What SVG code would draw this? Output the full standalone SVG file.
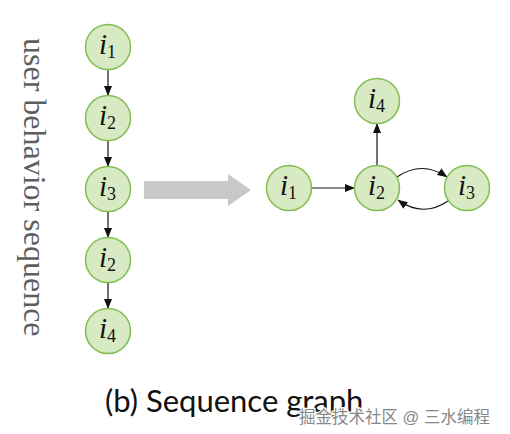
<svg xmlns="http://www.w3.org/2000/svg" width="510" height="434" viewBox="0 0 510 434">
<style>
.node{fill:#d7eac3;stroke:#82bc4f;stroke-width:1.5}
.lab{font-family:"Liberation Serif",serif;font-size:29px;fill:#111}
.sub{font-size:18px;font-style:normal}
.edge{fill:none;stroke:#111;stroke-width:1.2;marker-end:url(#ah)}
</style>
<defs>
<marker id="ah" markerUnits="userSpaceOnUse" markerWidth="10" markerHeight="8" refX="9.5" refY="4" orient="auto">
<path d="M0,0 L10,4 L0,8 z" fill="#111"/>
</marker>
</defs>
<rect width="510" height="434" fill="#fff"/>
<text transform="translate(24,38) rotate(90)" font-family="Liberation Serif,serif" font-size="32" fill="#5e5e5e">user behavior sequence</text>
<g id="connectors">
<line class="edge" x1="108" y1="69.5" x2="108" y2="95.5"/>
<line class="edge" x1="108" y1="140.5" x2="108" y2="166.5"/>
<line class="edge" x1="108" y1="211.5" x2="108" y2="237.5"/>
<line class="edge" x1="108" y1="282.5" x2="108" y2="308.5"/>
<line class="edge" x1="311.5" y1="188" x2="354.5" y2="188"/>
<line class="edge" x1="377" y1="165.5" x2="377" y2="123.5"/>
<path class="edge" d="M397,177 Q422,160 447,177"/>
<path class="edge" d="M448,201 Q423,218 398,200"/>
</g>
<polygon id="transform-arrow" points="144,181 228,181 228,174 251,190 228,206 228,199 144,199" fill="#c8c8c8"/>
<g id="seq1"><circle class="node" cx="108" cy="47" r="22.5"/><text class="lab" x="99" y="54"><tspan font-style="italic">i</tspan><tspan class="sub" dy="4">1</tspan></text></g>
<g id="seq2"><circle class="node" cx="108" cy="118" r="22.5"/><text class="lab" x="99" y="125"><tspan font-style="italic">i</tspan><tspan class="sub" dy="4">2</tspan></text></g>
<g id="seq3"><circle class="node" cx="108" cy="189" r="22.5"/><text class="lab" x="99" y="196"><tspan font-style="italic">i</tspan><tspan class="sub" dy="4">3</tspan></text></g>
<g id="seq4"><circle class="node" cx="108" cy="260" r="22.5"/><text class="lab" x="99" y="267"><tspan font-style="italic">i</tspan><tspan class="sub" dy="4">2</tspan></text></g>
<g id="seq5"><circle class="node" cx="108" cy="331" r="22.5"/><text class="lab" x="99" y="338"><tspan font-style="italic">i</tspan><tspan class="sub" dy="4">4</tspan></text></g>
<g id="g-i1"><circle class="node" cx="289" cy="188" r="22.5"/><text class="lab" x="280" y="195"><tspan font-style="italic">i</tspan><tspan class="sub" dy="4">1</tspan></text></g>
<g id="g-i2"><circle class="node" cx="377" cy="188" r="22.5"/><text class="lab" x="368" y="195"><tspan font-style="italic">i</tspan><tspan class="sub" dy="4">2</tspan></text></g>
<g id="g-i3"><circle class="node" cx="467" cy="188" r="22.5"/><text class="lab" x="458" y="195"><tspan font-style="italic">i</tspan><tspan class="sub" dy="4">3</tspan></text></g>
<g id="g-i4"><circle class="node" cx="377" cy="101" r="22.5"/><text class="lab" x="368" y="108"><tspan font-style="italic">i</tspan><tspan class="sub" dy="4">4</tspan></text></g>
<text x="105" y="412" font-family="Lato,sans-serif" font-size="31" fill="#111">(b) Sequence graph</text>
<text x="299" y="423" font-family="Liberation Sans,Noto Sans CJK SC,sans-serif" font-size="16.5" fill="#888" stroke="#fff" stroke-width="2.5" paint-order="stroke">掘金技术社区 @ 三水编程</text>
</svg>
